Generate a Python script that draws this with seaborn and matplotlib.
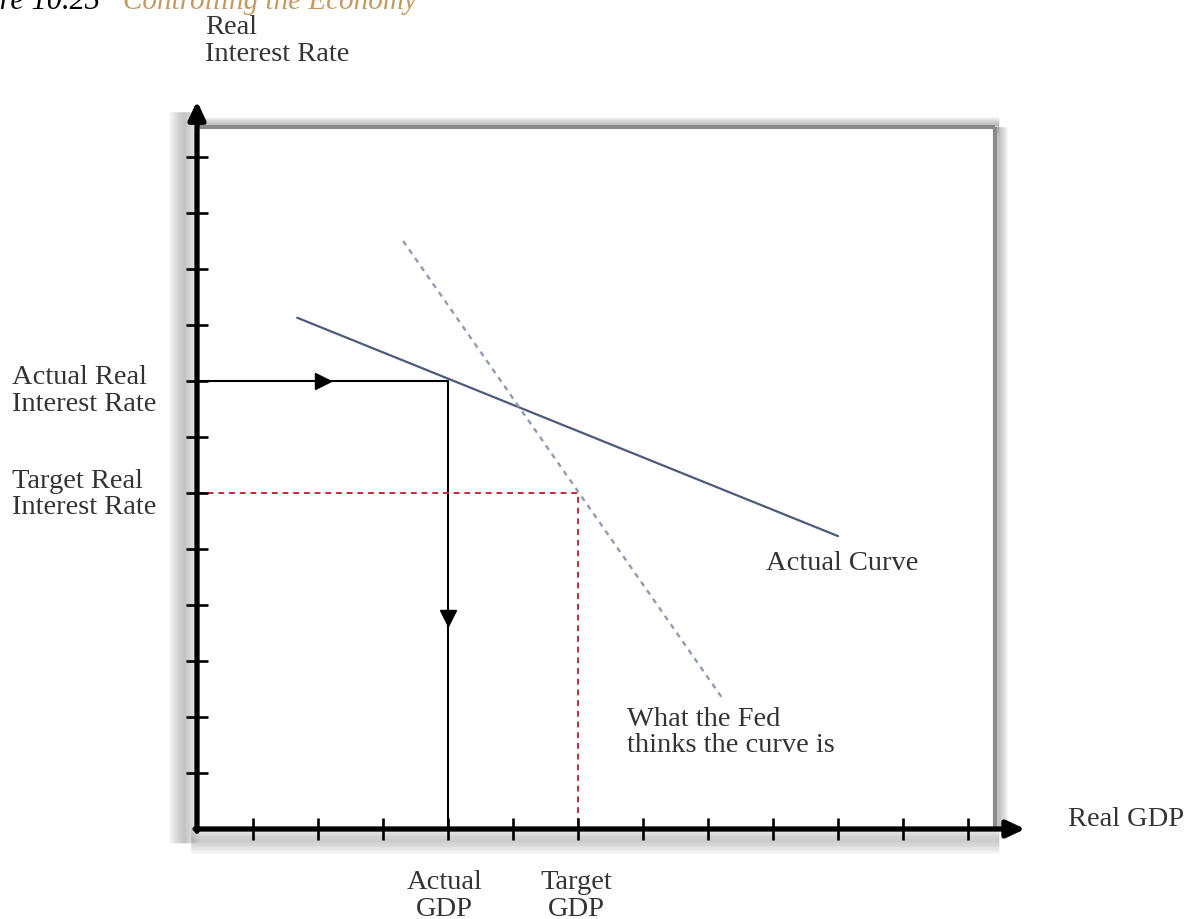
import matplotlib
matplotlib.use("Agg")
import matplotlib.pyplot as plt
import seaborn as sns
import numpy as np
import pandas as pd

# ---------------- data (axis tick units) ----------------
x_ticks = [1, 2, 3, 4, 5, 6, 7, 8, 9, 10, 11, 12]
y_ticks = [1, 2, 3, 4, 5, 6, 7, 8, 9, 10, 11, 12]
actual_curve_x = [1.68, 10.0]
actual_curve_y = [9.13, 5.23]
fed_curve_x = [3.31, 8.23]
fed_curve_y = [10.5, 2.32]
actual_rate = 8.0
target_rate = 6.0
actual_gdp = 4.0
target_gdp = 6.0
labels = {
    "yaxis": "Real\nInterest Rate",
    "xaxis": "Real GDP",
    "actual_rate": "Actual Real\nInterest Rate",
    "target_rate": "Target Real\nInterest Rate",
    "actual_gdp": "Actual\nGDP",
    "target_gdp": "Target\nGDP",
    "actual_curve": "Actual Curve",
    "fed_curve": "What the Fed\nthinks the curve is",
}

# ---------------- figure ----------------
sns.set_theme(style="white")
plt.rcParams["font.family"] = ["Liberation Serif", "DejaVu Serif"]

W, H = 1193, 920
fig = plt.figure(figsize=(W / 100, H / 100), dpi=100)
ax = fig.add_axes([0, 0, 1, 1])
ax.set_axis_off()

x0 = 1 - 56 / 65          # y-axis position in x units
ax.set_xlim((0 - 253) / 65 + 1, (W - 253) / 65 + 1)
ax.set_ylim(-90 / 56, 830 / 56)

x_top = 12.88   # x arrow tip
y_top = 13.0    # y arrow tip
box_top = 12.54
box_right = 12.42

def soft(xs, ys, width, color="#777777", n=8, alpha=0.05, z=1):
    for i in range(n):
        ax.plot(xs, ys, color=color, lw=width * (i + 1) / n, alpha=alpha,
                solid_capstyle="butt", zorder=z)

# shadow left of y axis & below x axis
soft([x0 - 0.2, x0 - 0.2], [-0.25, 12.8], 22, n=10, alpha=0.05)
soft([x0 - 0.1, x_top - 0.4], [-0.2, -0.2], 20, n=10, alpha=0.045)
# top frame & right frame
soft([x0, box_right + 0.05], [box_top + 0.03, box_top + 0.03], 12, n=8, alpha=0.07)
ax.plot([x0, box_right], [box_top, box_top], color="#8a8a8a", lw=3.0, zorder=2,
        solid_capstyle="butt")
soft([box_right + 0.06, box_right + 0.06], [0, box_top], 12, n=8, alpha=0.07)
ax.plot([box_right, box_right], [0, box_top], color="#8a8a8a", lw=3.0, zorder=2,
        solid_capstyle="butt")
ax.fill_between([x0, box_right], [0, 0], [box_top, box_top], color="white", zorder=1.5)

# axes with arrows
ax.annotate("", xy=(x0, y_top), xytext=(x0, -0.04),
            arrowprops=dict(arrowstyle="-|>,head_length=0.9,head_width=0.42",
                            lw=3.8, color="black", shrinkA=0, shrinkB=0), zorder=6)
ax.annotate("", xy=(x_top, 0), xytext=(x0 - 0.03, 0),
            arrowprops=dict(arrowstyle="-|>,head_length=0.9,head_width=0.42",
                            lw=3.8, color="black", shrinkA=0, shrinkB=0), zorder=6)

# tick marks
for t in y_ticks:
    ax.plot([x0 - 0.17, x0 + 0.17], [t, t], color="black", lw=1.9, zorder=6,
            solid_capstyle="butt")
for t in x_ticks:
    ax.plot([t, t], [-0.2, 0.2], color="black", lw=1.9, zorder=6,
            solid_capstyle="butt")

# curves via seaborn
df_act = pd.DataFrame({"x": actual_curve_x, "y": actual_curve_y})
df_fed = pd.DataFrame({"x": fed_curve_x, "y": fed_curve_y})
sns.lineplot(data=df_act, x="x", y="y", ax=ax, color="#4d5a7c", lw=1.6,
             sort=False, estimator=None, zorder=4)
sns.lineplot(data=df_fed, x="x", y="y", ax=ax, color="#8e9bb0", lw=1.7,
             sort=False, estimator=None, zorder=4, linestyle=(0, (2.2, 2.2)))

# actual rate / GDP path (black)
ax.plot([x0, actual_gdp, actual_gdp], [actual_rate, actual_rate, 0],
        color="black", lw=1.5, zorder=5)
ax.plot([(x0 + actual_gdp) / 2], [actual_rate], marker=">", color="black",
        ms=12, zorder=5)
ax.plot([actual_gdp], [actual_rate * 0.47], marker="v", color="black",
        ms=12, zorder=5)

# target rate / GDP path (red dashed)
ax.plot([x0, target_gdp, target_gdp], [target_rate, target_rate, 0],
        color="#c8283c", lw=1.4, linestyle=(0, (3, 2.5)), zorder=5)

# ---------------- text ----------------
tc = "#333333"
fs = 20.5
ls = 1.08
ax.text(x0 + 0.12, 14.55, labels["yaxis"], fontsize=fs, color=tc, va="top",
        ha="left", linespacing=ls)
ax.text(-2.7, actual_rate + 0.3, labels["actual_rate"], fontsize=fs, color=tc,
        va="top", ha="left", linespacing=ls)
ax.text(-2.7, target_rate + 0.45, labels["target_rate"], fontsize=fs, color=tc,
        va="top", ha="left", linespacing=ls)
ax.text(actual_gdp - 0.05, -0.72, labels["actual_gdp"], fontsize=fs, color=tc,
        va="top", ha="center", linespacing=ls)
ax.text(target_gdp - 0.02, -0.72, labels["target_gdp"], fontsize=fs, color=tc,
        va="top", ha="center", linespacing=ls)
ax.text(13.54, 0.18, labels["xaxis"], fontsize=fs, color=tc, va="center", ha="left")
ax.text(8.9, 4.98, labels["actual_curve"], fontsize=fs, color=tc, va="top", ha="left")
ax.text(6.75, 2.2, labels["fed_curve"], fontsize=fs, color=tc, va="top",
        ha="left", linespacing=ls)

# cropped figure caption at the very top (as in the reference)
fig.text(100 / W, 1 - 9 / H, "Figure 10.23", fontsize=22, color="black",
         ha="right", va="baseline", family=["Liberation Serif"], style="italic")
fig.text(123 / W, 1 - 9 / H, "Controlling the Economy", fontsize=21,
         color="#c39a63", ha="left", va="baseline",
         family=["Liberation Serif"], style="italic")

fig.savefig("out.png", dpi=100)
